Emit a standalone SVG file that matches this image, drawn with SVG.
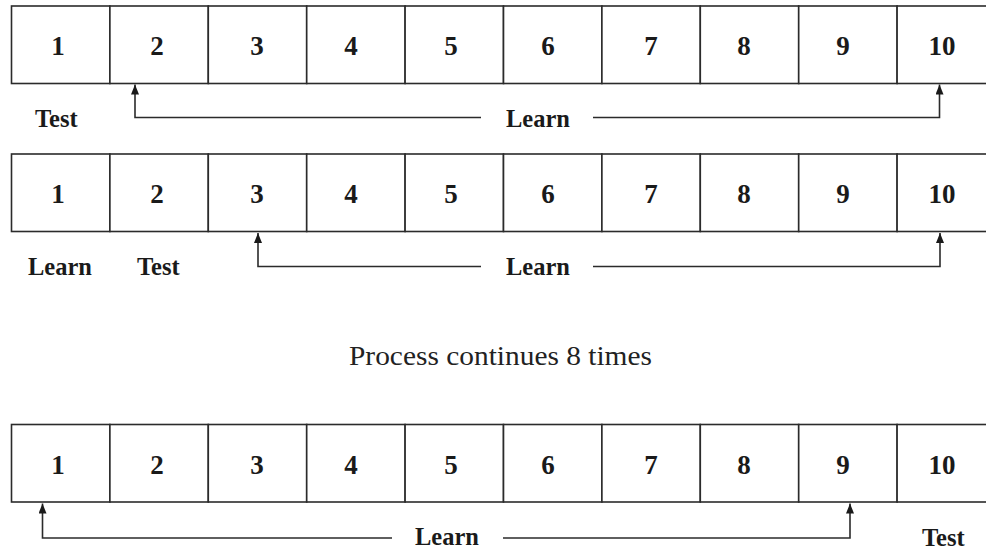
<svg xmlns="http://www.w3.org/2000/svg" width="986" height="550" viewBox="0 0 986 550">
  <defs>
    <style>
      .cell { fill: #ffffff; stroke: #2b2b2b; stroke-width: 1.6; }
      .num { font-family: "Liberation Serif", "Times New Roman", serif; font-weight: bold; font-size: 27px; fill: #1a1a1a; text-anchor: middle; }
      .lbl { font-family: "Liberation Serif", "Times New Roman", serif; font-weight: bold; font-size: 24.5px; fill: #1a1a1a; }
      .note { font-family: "Liberation Serif", "Times New Roman", serif; font-size: 28px; fill: #222222; }
      .wire { fill: none; stroke: #2b2b2b; stroke-width: 1.6; }
    </style>
    <marker id="arrow" viewBox="0 0 10 8" refX="10" refY="4" markerWidth="10" markerHeight="8" markerUnits="userSpaceOnUse" orient="auto">
      <path d="M0,0 L10,4 L0,8 z" fill="#1a1a1a"/>
    </marker>
    <g id="strip">
      <rect class="cell" x="11.5" y="0" width="98.4" height="77.5"/>
      <rect class="cell" x="109.9" y="0" width="98.4" height="77.5"/>
      <rect class="cell" x="208.3" y="0" width="98.4" height="77.5"/>
      <rect class="cell" x="306.7" y="0" width="98.4" height="77.5"/>
      <rect class="cell" x="405.1" y="0" width="98.4" height="77.5"/>
      <rect class="cell" x="503.5" y="0" width="98.4" height="77.5"/>
      <rect class="cell" x="601.9" y="0" width="98.4" height="77.5"/>
      <rect class="cell" x="700.3" y="0" width="98.4" height="77.5"/>
      <rect class="cell" x="798.7" y="0" width="98.4" height="77.5"/>
      <rect class="cell" x="897.1" y="0" width="98.4" height="77.5"/>
      <text class="num" x="58" y="49">1</text>
      <text class="num" x="157" y="49">2</text>
      <text class="num" x="257" y="49">3</text>
      <text class="num" x="351" y="49">4</text>
      <text class="num" x="451" y="49">5</text>
      <text class="num" x="548" y="49">6</text>
      <text class="num" x="651" y="49">7</text>
      <text class="num" x="744" y="49">8</text>
      <text class="num" x="843" y="49">9</text>
      <text class="num" x="942" y="49">10</text>
    </g>
  </defs>

  <!-- first fold: test on 1, learn on 2..10 -->
  <g id="fold-1">
    <use href="#strip" x="0" y="6"/>
    <text class="lbl" x="35" y="127">Test</text>
    <text class="lbl" x="506" y="127">Learn</text>
  </g>

  <!-- second fold: learn on 1, test on 2, learn on 3..10 -->
  <g id="fold-2">
    <use href="#strip" x="0" y="154"/>
    <text class="lbl" x="28" y="275">Learn</text>
    <text class="lbl" x="137" y="275">Test</text>
    <text class="lbl" x="506" y="275">Learn</text>
  </g>

  <g id="note">
    <text class="note" x="349" y="365" textLength="303" lengthAdjust="spacingAndGlyphs">Process continues 8 times</text>
  </g>

  <!-- last fold: learn on 1..9, test on 10 -->
  <g id="fold-10">
    <use href="#strip" x="0" y="424.5"/>
    <text class="lbl" x="415" y="545">Learn</text>
    <text class="lbl" x="922" y="546">Test</text>
  </g>

  <g id="connectors">
    <path class="wire" d="M481,117.5 H135 V84.5" marker-end="url(#arrow)"/>
    <path class="wire" d="M593,117.5 H939.5 V84.5" marker-end="url(#arrow)"/>
    <path class="wire" d="M481,266.5 H258 V233" marker-end="url(#arrow)"/>
    <path class="wire" d="M593,266.5 H940 V233" marker-end="url(#arrow)"/>
    <path class="wire" d="M392,538 H42.5 V503.5" marker-end="url(#arrow)"/>
    <path class="wire" d="M503,538 H850 V503.5" marker-end="url(#arrow)"/>
  </g>
</svg>
